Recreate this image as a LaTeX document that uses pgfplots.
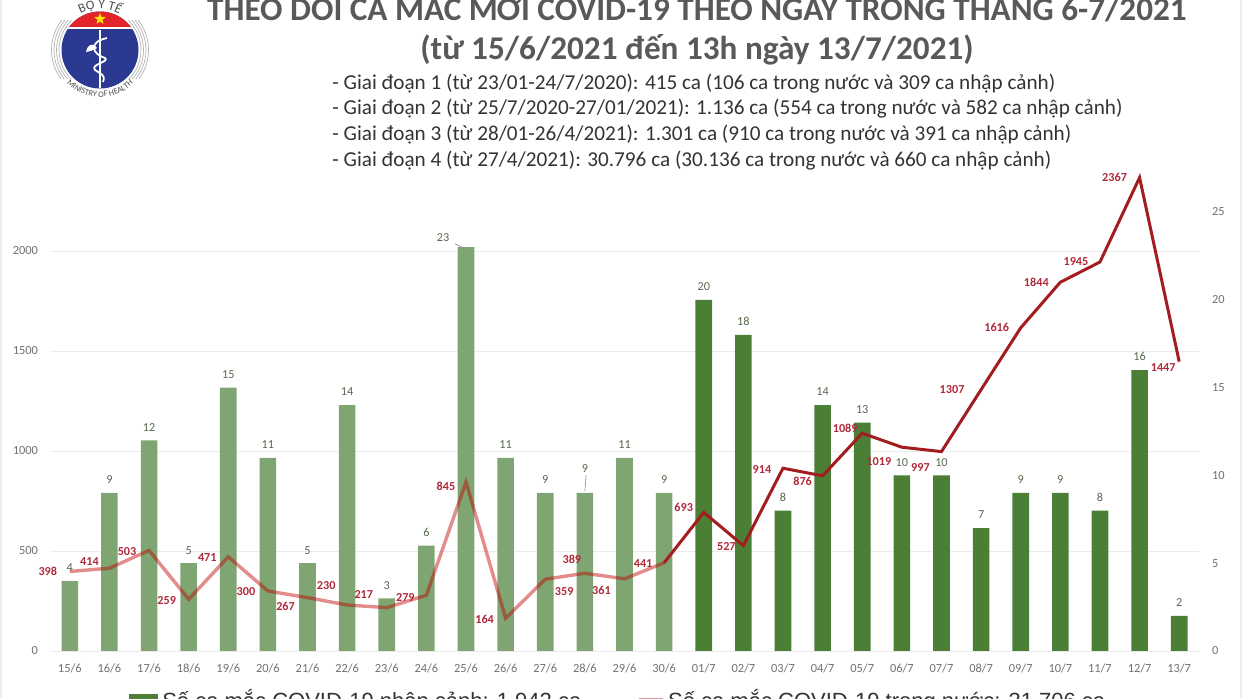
\documentclass[border=0pt]{standalone}
\usepackage{fontspec}
\setmainfont{Carlito}
\newfontfamily\legendfont{Liberation Sans}
\usepackage{pgfplots}
\usepackage{pgfplotstable}
\pgfplotsset{compat=1.18}
\usetikzlibrary{shapes.geometric,decorations.text}

\definecolor{barlight}{HTML}{7FA672}
\definecolor{bardark}{HTML}{4A7F35}
\definecolor{linedark}{HTML}{A21C20}
\definecolor{labred}{HTML}{B02A3A}
\definecolor{labgreen}{HTML}{56684C}
\definecolor{ticks}{HTML}{707070}
\definecolor{titlegray}{HTML}{595959}
\definecolor{logoblue}{HTML}{2B3990}
\definecolor{logored}{HTML}{E3242B}

% data label: x offset, y offset (px), text
\protected\def\lab#1#2#3{\smash{\makebox[0pt][c]{\hspace*{\dimexpr#1pt\relax}\raisebox{\dimexpr#2pt/2-1.9pt\relax}{#3}}}}

% i, new domestic cases, label
\pgfplotstableread{
i v m
0 398 \lab{-22}{0}{398}
1 414 \lab{-20}{7}{414}
2 503 \lab{-22}{-1}{503}
3 259 \lab{-22}{-1}{259}
4 471 \lab{-21}{-1}{471}
5 300 \lab{-22}{-1}{300}
6 267 \lab{-22}{-9}{267}
7 230 \lab{-21}{19}{230}
8 217 \lab{-23}{13}{217}
9 279 \lab{-21}{-2}{279}
10 845 \lab{-20}{-5}{845}
11 164 \lab{-21}{-1}{164}
12 359 \lab{19}{-12}{359}
13 389 \lab{-13}{14}{389}
14 361 \lab{-23}{-12}{361}
15 441 \lab{-21}{-1}{441}
16 693 \lab{-20}{5}{693}
17 527 \lab{-17}{-1}{527}
18 914 \lab{-21}{-1}{914}
19 876 \lab{-20}{-6}{876}
20 1089 \lab{-17}{5}{1089}
21 1019 \lab{-23}{-14}{1019}
22 997 \lab{-21}{-16}{997}
23 1307 \lab{-29}{0}{1307}
24 1616 \lab{-24}{0}{1616}
25 1844 \lab{-24}{0}{1844}
26 1945 \lab{-24}{0}{1945}
27 2367 \lab{-25}{0}{2367}
28 1447 \lab{-16}{-6}{1447}
}\linedata

% i, imported cases, label
\pgfplotstableread{
i v m
0 4 \lab{0}{13}{4}
1 9 \lab{0}{13}{9}
2 12 \lab{0}{13}{12}
3 5 \lab{0}{13}{5}
4 15 \lab{0}{13}{15}
5 11 \lab{0}{13}{11}
6 5 \lab{0}{13}{5}
7 14 \lab{0}{13}{14}
8 3 \lab{0}{13}{3}
9 6 \lab{0}{13}{6}
10 23 \lab{-23}{9}{23}
11 11 \lab{0}{13}{11}
12 9 \lab{0}{13}{9}
13 9 \lab{0}{24}{9}
14 11 \lab{0}{13}{11}
15 9 \lab{0}{13}{9}
16 20 \lab{0}{13}{20}
17 18 \lab{0}{13}{18}
18 8 \lab{0}{13}{8}
19 14 \lab{0}{13}{14}
20 13 \lab{0}{13}{13}
21 10 \lab{0}{13}{10}
22 10 \lab{0}{13}{10}
23 7 \lab{0}{13}{7}
24 9 \lab{0}{13}{9}
25 9 \lab{0}{13}{9}
26 8 \lab{0}{13}{8}
27 16 \lab{0}{13}{16}
28 2 \lab{0}{13}{2}
}\bardata

\pgfplotsset{
  base/.style={
    at={(org)}, anchor=south west,
    scale only axis, width=574.5pt, height=240pt,
    xmin=-0.5, xmax=28.5, clip=false,
    axis line style={draw=none}, major tick length=0pt,
    /pgf/number format/assume math mode=true,
    /pgf/number format/1000 sep={},
    tick label style={font=\fontsize{6.2}{7}\selectfont, text=ticks},
  },
  labels/.style={
    nodes near coords, point meta=explicit symbolic,
    every node near coord/.append style={
      anchor=center, inner sep=0pt,
      font=\fontsize{6.1}{7}\selectfont#1},
  },
}

\begin{document}
\begin{tikzpicture}[x=0.5pt,y=-0.5pt]
\path[use as bounding box,clip] (0,0) rectangle (1242,698);
\coordinate (org) at (50,651);
\fill[black!7] (0,0) rectangle (2,698);
\fill[black!7] (1240,0) rectangle (1242,698);

% ministry logo
\begin{scope}[shift={(100,50)},x=0.5pt,y=0.5pt]
  \begin{scope}
    \clip (-52,-28) rectangle (52,30);
    \foreach \r in {41,43.5,46,48.5} \draw[gray!60,line width=0.35pt] (0,0) circle (\r);
  \end{scope}
  \fill[logoblue] (0,0) circle (38.5);
  \begin{scope}
    \clip (0,0) circle (38.5);
    \fill[logored] (-40,23) rectangle (40,40);
    \fill[white] (-40,21) rectangle (40,23);
  \end{scope}
  \node[star,star points=5,star point ratio=2.4,fill=yellow!90!orange,inner sep=0pt,minimum size=6pt] at (0,31) {};
  \draw[white,line width=1pt] (0,20) -- (0,-38);
  \draw[white,line width=0.9pt] (7,12) .. controls (-12,8) and (-8,-4) .. (5,-8)
    .. controls (10,-12) and (-10,-14) .. (-5,-20) .. controls (0,-24) and (6,-24) .. (3,-32);
  \fill[white] (-3,2) .. controls (-8,8) and (-12,6) .. (-14,-2) .. controls (-9,-1) and (-6,0) .. (-3,2);
  \path[decorate,decoration={text along path,
    text={|\fontsize{6.5}{7}\selectfont\color{black!70}|BỘ Y TẾ},text align=center}]
    (140:41) arc (140:40:41);
  \path[decorate,decoration={text along path,
    text={|\fontsize{4.2}{5}\selectfont\color{black!70}|MINISTRY OF HEALTH},text align=center}]
    (205:47) arc (205:335:47);
\end{scope}

% bars, right scale
\begin{axis}[base,
  axis y line*=right,
  ymin=0, ymax=27.335,
  ybar, bar width=8.3pt,
  xtick={0,...,28},
  xticklabels={15/6,16/6,17/6,18/6,19/6,20/6,21/6,22/6,23/6,24/6,25/6,26/6,27/6,28/6,29/6,30/6,
    01/7,02/7,03/7,04/7,05/7,06/7,07/7,08/7,09/7,10/7,11/7,12/7,13/7},
  x tick label style={yshift=-3pt},
  ytick={0,5,10,15,20,25},
  y tick label style={xshift=3pt},
  extra y ticks={5.694,11.389,17.083,22.778},
  extra y tick labels={},
  extra y tick style={grid=major, major grid style={draw=black!8, line width=0.5pt}},
  after end axis/.code={
    \draw[black!8,line width=0.5pt] (axis cs:-0.5,0) -- (axis cs:28.5,0);
  },
]
\addplot[bar shift=0pt, fill=barlight, draw=none, restrict x to domain=0:15,
  labels={\color{labgreen}}] table[x=i,y=v,meta=m] {\bardata};
\addplot[bar shift=0pt, fill=bardark, draw=none, restrict x to domain=16:28,
  labels={\color{labgreen}}] table[x=i,y=v,meta=m] {\bardata};
% leader lines
\draw[black!45,line width=0.3pt] (axis cs:9.72,23.2) -- (axis cs:9.98,22.9);
\draw[black!45,line width=0.3pt] (axis cs:13.03,10.0) -- (axis cs:13,9.1);
\end{axis}

% line, left scale
\begin{axis}[base,
  axis y line*=left,
  axis x line=none,
  ymin=0, ymax=2400,
  ytick={0,500,1000,1500,2000},
  y tick label style={xshift=-2.5pt},
  legend style={
    at={(0.0688,-0.071)}, anchor=north west, draw=none, fill=none,
    legend columns=2, inner sep=0pt,
    font=\legendfont\fontsize{11}{12}\selectfont, text=black!80,
    /tikz/every even column/.style={column sep=26pt},
  },
]
\addlegendimage{legend image code/.code={
  \fill[bardark] (0.5pt,-5pt) rectangle (14.5pt,3pt);}}
\addlegendentry{Số ca mắc COVID-19 nhập cảnh: 1.942 ca}
\addlegendimage{legend image code/.code={
  \draw[linedark!45,line width=1.4pt] (1pt,0.5pt) -- (13pt,0.5pt);}}
\addlegendentry{Số ca mắc COVID-19 trong nước: 31.706 ca}
\addplot[red!75!black, opacity=0.45, line width=1.7pt, restrict x to domain=0:15]
  table[x=i,y=v] {\linedata};
\addplot[linedark, line width=1.5pt, restrict x to domain=15:28]
  table[x=i,y=v] {\linedata};
\addplot[draw=none, labels={\bfseries\color{labred}}]
  table[x=i,y=v,meta=m] {\linedata};
\end{axis}

% heading
\node[text=titlegray,font=\fontsize{16.6}{19}\selectfont\bfseries] at (697,5)
  {THEO DÕI CA MẮC MỚI COVID-19 THEO NGÀY TRONG THÁNG 6-7/2021};
\node[text=titlegray,font=\fontsize{16.6}{19}\selectfont\bfseries] at (697,50)
  {(từ 15/6/2021 đến 13h ngày 13/7/2021)};
\begin{scope}[every node/.style={anchor=west,inner sep=0pt,text=black!80,font=\fontsize{10.6}{12}\selectfont}]
\node at (332,84) {- Giai đoạn 1 (từ 23/01-24/7/2020): 415 ca (106 ca trong nước và 309 ca nhập cảnh)};
\node at (332,109) {- Giai đoạn 2 (từ 25/7/2020-27/01/2021): 1.136 ca (554 ca trong nước và 582 ca nhập cảnh)};
\node at (332,135) {- Giai đoạn 3 (từ 28/01-26/4/2021): 1.301 ca (910 ca trong nước và 391 ca nhập cảnh)};
\node at (332,161) {- Giai đoạn 4 (từ 27/4/2021): 30.796 ca (30.136 ca trong nước và 660 ca nhập cảnh)};
\end{scope}
\end{tikzpicture}
\end{document}
